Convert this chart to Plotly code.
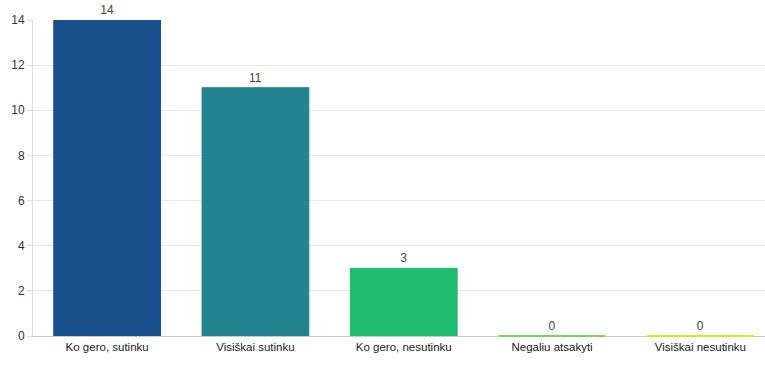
import plotly.graph_objects as go

categories = ["Ko gero, sutinku", "Visiškai sutinku", "Ko gero, nesutinku", "Negaliu atsakyti", "Visiškai nesutinku"]
values = [14, 11, 3, 0, 0]
colors = ["#1b508e", "#238390", "#1fbb6f", "#7fd34e", "#dfe41a"]
yticks = [0, 2, 4, 6, 8, 10, 12, 14]

fig = go.Figure(go.Bar(
    x=categories, y=values,
    marker=dict(color=colors, line=dict(color=colors, width=1)),
    text=[str(v) for v in values], textposition="outside",
    textfont=dict(family="Liberation Sans, Arial, sans-serif", size=12, color="#444"),
    cliponaxis=False,
))
# zero-value bars are shown as a thin coloured baseline
zero_cats = [c for c, v in zip(categories, values) if v == 0]
zero_vals = [v for v in values if v == 0]
zero_cols = [col for col, v in zip(colors, values) if v == 0]
fig.add_trace(go.Scatter(
    x=zero_cats, y=zero_vals, mode="markers", cliponaxis=False, hoverinfo="skip",
    marker=dict(symbol="line-ew", size=76, line=dict(color=zero_cols, width=2)),
))
fig.update_layout(
    width=765, height=369,
    margin=dict(l=33, r=0, t=20, b=33),
    plot_bgcolor="white", paper_bgcolor="white",
    bargap=0.28,
    font=dict(family="Liberation Sans, Arial, sans-serif", size=12, color="#333"),
    showlegend=False,
)
fig.update_xaxes(range=[-0.5, 4.436], showline=True, linecolor="#c8c8c8", linewidth=1,
                 showgrid=False, ticks="", automargin=False, layer="below traces",
                 tickfont=dict(size=11.5, color="#222"))
fig.update_yaxes(range=[0, 14], tickvals=yticks, showgrid=True, gridcolor="#e6e6e6",
                 showline=True, linecolor="#dcdcdc", ticks="outside", ticklen=5,
                 tickcolor="#dcdcdc", zeroline=False, automargin=False, layer="below traces",
                 tickfont=dict(size=12, color="#333"))
fig.write_html("out.html", config={"displayModeBar": False},
               post_script="document.body.style.margin='0';document.body.style.overflow='hidden';")
